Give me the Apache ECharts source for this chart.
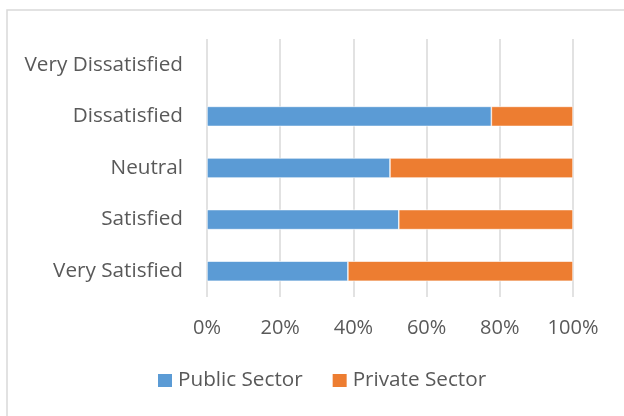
<!DOCTYPE html>
<html>
<head>
<meta charset="utf-8">
<script src="https://cdn.jsdelivr.net/npm/echarts@6/dist/echarts.min.js"></script>
<style>
  html, body { margin: 0; padding: 0; background: #ffffff; }
  #chart { width: 624px; height: 416px; }
</style>
</head>
<body>
<div id="chart"></div>
<script>
// Satisfaction levels, listed bottom to top along the category axis
const categories = ['Very Satisfied', 'Satisfied', 'Neutral', 'Dissatisfied', 'Very Dissatisfied'];
// Share of responses per sector (percent of each row); no responses for the top row
const publicSector = [38.5, 52.4, 50.0, 77.7, null];
const privateSector = [61.5, 47.6, 50.0, 22.3, null];
const xTicks = [0, 20, 40, 60, 80, 100];

const FONT = '"Open Sans", sans-serif';
const TEXT = '#595959';
const GRID = '#d9d9d9';

const chart = echarts.init(document.getElementById('chart'), null, { renderer: 'canvas' });
chart.setOption({
  backgroundColor: '#ffffff',
  animation: false,
  graphic: [{
    type: 'rect',
    shape: { x: 7, y: 10, width: 700, height: 500 },
    style: { fill: 'none', stroke: GRID, lineWidth: 1.5 },
    silent: true,
    z: -1
  }],
  grid: { left: 207, right: 51, top: 39, bottom: 119, containLabel: false },
  legend: {
    left: 158,
    top: 370,
    padding: 0,
    itemWidth: 14,
    itemHeight: 13,
    itemGap: 30,
    icon: 'rect',
    itemStyle: { borderWidth: 0 },
    textStyle: { fontFamily: FONT, fontSize: 20.7, color: TEXT, padding: [0, 0, 0, 1] },
    data: ['Public Sector', 'Private Sector']
  },
  xAxis: {
    type: 'value',
    min: xTicks[0],
    max: xTicks[xTicks.length - 1],
    interval: xTicks[1] - xTicks[0],
    axisLine: { show: false },
    axisTick: { show: false },
    splitLine: { show: true, lineStyle: { color: GRID, width: 1.5 } },
    axisLabel: {
      margin: 21,
      fontFamily: FONT, fontSize: 20, color: TEXT,
      formatter: '{value}%'
    }
  },
  yAxis: {
    type: 'category',
    data: categories,
    axisLine: { show: false },
    axisTick: { show: false },
    splitLine: { show: false },
    axisLabel: { margin: 24, fontFamily: FONT, fontSize: 20.7, color: TEXT }
  },
  series: [
    {
      name: 'Public Sector',
      type: 'bar',
      stack: 'total',
      barWidth: 20,
      data: publicSector,
      itemStyle: { color: '#5b9bd5', borderColor: '#ffffff', borderWidth: 0.6 }
    },
    {
      name: 'Private Sector',
      type: 'bar',
      stack: 'total',
      barWidth: 20,
      data: privateSector,
      itemStyle: { color: '#ed7d31', borderColor: '#ffffff', borderWidth: 0.6 }
    }
  ]
});
</script>
</body>
</html>
